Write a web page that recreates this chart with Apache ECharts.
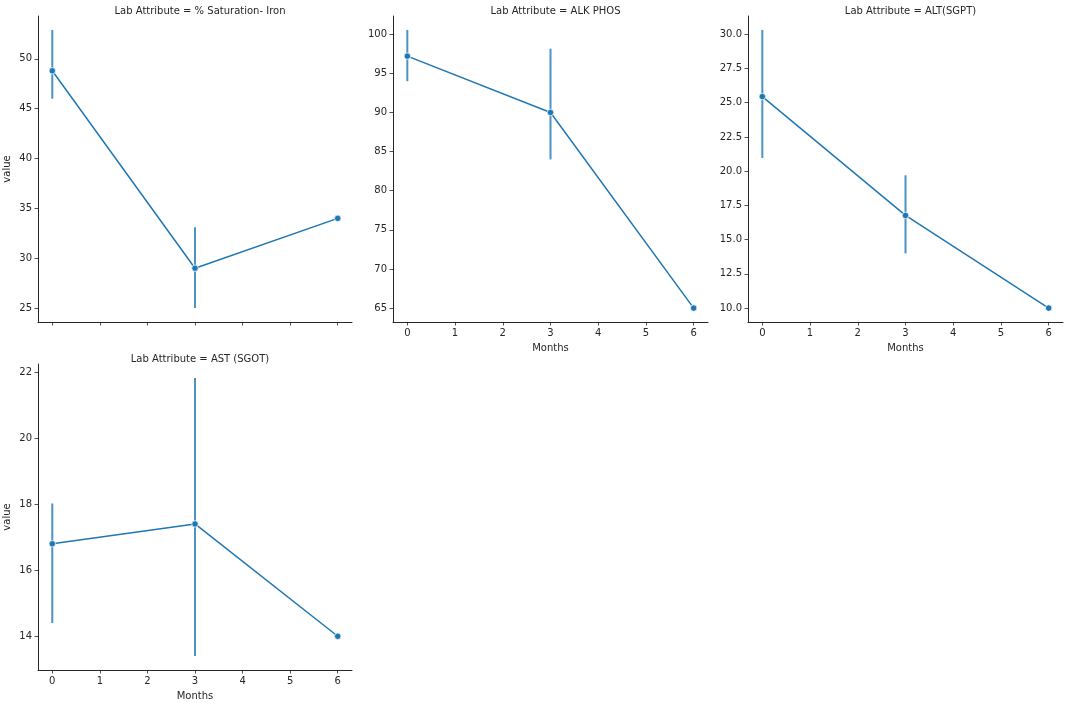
<!DOCTYPE html>
<html><head><meta charset="utf-8">
<script src="https://cdn.jsdelivr.net/npm/echarts@6/dist/echarts.min.js"></script>
<style>html,body{margin:0;padding:0;background:#fff}#c{width:1066px;height:706px}</style>
</head><body><div id="c"></div>
<script>
const months = [0, 3, 6];
const xTicks = [0, 1, 2, 3, 4, 5, 6];
const panelTitles = ['Lab Attribute = % Saturation- Iron', 'Lab Attribute = ALK PHOS', 'Lab Attribute = ALT(SGPT)', 'Lab Attribute = AST (SGOT)'];

const ironMean = [48.8, 29.0, 34.0];
const ironLow  = [46.0, 25.0, 34.0];
const ironHigh = [52.9, 33.1, 34.0];

const alkMean = [97.2, 90.0, 65.0];
const alkLow  = [94.0, 84.0, 65.0];
const alkHigh = [100.55, 98.15, 65.0];

const altMean = [25.45, 16.77, 10.0];
const altLow  = [20.97, 14.0, 10.0];
const altHigh = [30.32, 19.7, 10.0];

const astMean = [16.8, 17.4, 14.0];
const astLow  = [14.4, 13.4, 14.0];
const astHigh = [18.02, 21.82, 14.0];

const yTicksIron = [25, 30, 35, 40, 45, 50];
const yTicksAlk = [65, 70, 75, 80, 85, 90, 95, 100];
const yTicksAlt = [10, 12.5, 15, 17.5, 20, 22.5, 25, 27.5, 30];
const yTicksAst = [14, 16, 18, 20, 22];

const panels = [
  {mean: ironMean, low: ironLow, high: ironHigh, ticks: yTicksIron, fmt: v => String(v), ylabel: 'value', xlabels: false},
  {mean: alkMean, low: alkLow, high: alkHigh, ticks: yTicksAlk, fmt: v => String(v), ylabel: '', xlabels: true},
  {mean: altMean, low: altLow, high: altHigh, ticks: yTicksAlt, fmt: v => v.toFixed(1), ylabel: '', xlabels: true},
  {mean: astMean, low: astLow, high: astHigh, ticks: yTicksAst, fmt: v => String(v), ylabel: 'value', xlabels: true}
];

const grids = [
  {left: 38, top: 16, width: 314, height: 306},
  {left: 393, top: 16, width: 315, height: 306},
  {left: 748, top: 16, width: 315, height: 306},
  {left: 38, top: 364, width: 314, height: 306}
];

const FONT = 'DejaVu Sans';
const INK = '#262626';
const BLUE = '#1f77b4';

const xMin = Math.min(...months), xMax = Math.max(...months);
const xPad = (xMax - xMin) * 0.05;

const option = {
  animation: false,
  backgroundColor: '#fff',
  title: [], grid: [], xAxis: [], yAxis: [], series: []
};

panels.forEach((p, i) => {
  const g = grids[i];
  option.grid.push(Object.assign({containLabel: false}, g));
  option.title.push({
    text: panelTitles[i],
    left: g.left + g.width / 2, top: g.top - 15, textAlign: 'center',
    textStyle: {fontFamily: FONT, fontSize: 10, fontWeight: 'normal', color: INK}
  });
  const lo = Math.min(...p.low), hi = Math.max(...p.high);
  const pad = (hi - lo) * 0.05;
  option.xAxis.push({
    type: 'value', gridIndex: i, min: xMin - xPad, max: xMax + xPad,
    name: p.xlabels ? 'Months' : '', nameLocation: 'middle', nameGap: 21,
    nameTextStyle: {fontFamily: FONT, fontSize: 10, color: INK},
    splitLine: {show: false},
    axisLine: {onZero: false, lineStyle: {color: INK, width: 1}},
    axisTick: {show: true, length: 3.5, customValues: xTicks, lineStyle: {color: INK, width: 0.8}},
    axisLabel: {show: p.xlabels, customValues: xTicks, margin: 6, fontFamily: FONT, fontSize: 10, color: INK}
  });
  option.yAxis.push({
    type: 'value', gridIndex: i, min: lo - pad, max: hi + pad,
    name: p.ylabel, nameLocation: 'middle', nameGap: 26, nameRotate: 90,
    nameTextStyle: {fontFamily: FONT, fontSize: 10, color: INK},
    splitLine: {show: false},
    axisLine: {show: true, onZero: false, lineStyle: {color: INK, width: 1}},
    axisTick: {show: true, length: 3.5, customValues: p.ticks, lineStyle: {color: INK, width: 0.8}},
    axisLabel: {customValues: p.ticks, margin: 6, fontFamily: FONT, fontSize: 10, color: INK, formatter: p.fmt}
  });
  option.series.push({
    type: 'custom', xAxisIndex: i, yAxisIndex: i, z: 1,
    data: months.map((m, k) => [m, p.low[k], p.high[k]]),
    renderItem: (params, api) => {
      const a = api.coord([api.value(0), api.value(1)]);
      const b = api.coord([api.value(0), api.value(2)]);
      return {type: 'line', shape: {x1: a[0], y1: a[1], x2: b[0], y2: b[1]},
        style: {stroke: BLUE, lineWidth: 2, opacity: 0.8}};
    }
  });
  option.series.push({
    type: 'line', xAxisIndex: i, yAxisIndex: i, z: 2,
    data: months.map((m, k) => [m, p.mean[k]]),
    symbol: 'circle', symbolSize: 6.5,
    lineStyle: {color: BLUE, width: 1.5},
    itemStyle: {color: BLUE, borderColor: '#fff', borderWidth: 0.75}
  });
});

const chart = echarts.init(document.getElementById('c'), null, {renderer: 'canvas'});
chart.setOption(option);
</script>
</body></html>
